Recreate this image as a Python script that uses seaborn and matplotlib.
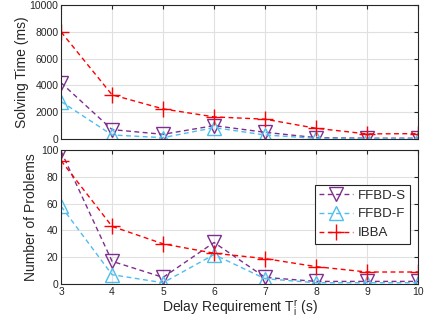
import numpy as np
import pandas as pd
import seaborn as sns
import matplotlib
matplotlib.use("Agg")
from matplotlib import pyplot as plt

# data
delay = [3, 4, 5, 6, 7, 8, 9, 10]
time_ffbd_s = [4200, 700, 350, 1000, 500, 100, 60, 60]
time_ffbd_f = [2800, 300, 100, 850, 300, 50, 30, 30]
time_ibba = [8000, 3300, 2250, 1650, 1480, 800, 380, 400]
prob_ffbd_s = [99, 17, 5, 31, 5, 2, 2, 2]
prob_ffbd_f = [58, 7, 1, 22, 4, 1, 1, 1]
prob_ibba = [92, 43, 30, 23, 19, 13, 9, 9]

names = ["FFBD-S", "FFBD-F", "IBBA"]
colors = ["#7E2F8E", "#4DBEEE", "#FF0000"]
markers = ["v", "^", "+"]

sns.set_style("whitegrid")
plt.rcParams['font.family'] = ['Liberation Sans', 'DejaVu Sans']
plt.rcParams['mathtext.fontset'] = 'custom'
plt.rcParams['mathtext.rm'] = 'Liberation Sans'

fig = plt.figure(figsize=(4.24, 3.21), dpi=100)
ax1 = fig.add_axes([0.144, 0.567, 0.842, 0.417])
ax2 = fig.add_axes([0.144, 0.115, 0.842, 0.418])

def draw(ax, series):
    for vals, name, c, m in zip(series, names, colors, markers):
        df = pd.DataFrame({"x": delay, "y": vals})
        sns.lineplot(data=df, x="x", y="y", ax=ax, color=c,
                     linewidth=1.0, marker=m, markersize=10 if m != "+" else 11,
                     markerfacecolor="none", markeredgecolor=c,
                     markeredgewidth=1.0, label=name)
    # matlab style dashes
    for line in ax.lines:
        line.set_linestyle((0, (3.5, 2.5)))
    ax.set_xlim(3, 10)
    ax.set_xticks(delay)
    ax.grid(True, color="#e0e0e0", linewidth=0.8)
    for s in ax.spines.values():
        s.set_color("#262626")
        s.set_linewidth(0.8)
    ax.tick_params(axis="both", labelsize=7.5, colors="#262626", direction="in",
                   length=3, top=True, right=True, pad=2)
    ax.set_xlabel("")

draw(ax1, [time_ffbd_s, time_ffbd_f, time_ibba])
ax1.set_ylim(0, 10000)
ax1.set_yticks([0, 2000, 4000, 6000, 8000, 10000])
ax1.set_xticklabels([])
ax1.set_ylabel("Solving Time (ms)", fontsize=10, labelpad=0)
ax1.get_legend().remove()

draw(ax2, [prob_ffbd_s, prob_ffbd_f, prob_ibba])
ax2.set_ylim(0, 100)
ax2.set_yticks([0, 20, 40, 60, 80, 100])
ax2.set_ylabel("Number of Problems", fontsize=10, labelpad=2)
ax2.set_xlabel(r"Delay Requirement $\mathregular{T_i^r}$ (s)", fontsize=10, labelpad=1)
leg = ax2.legend(loc="upper left", bbox_to_anchor=(0.71, 0.74), fontsize=9.5,
                 frameon=True, fancybox=False, edgecolor="#262626",
                 handlelength=2.6, borderpad=0.35, labelspacing=0.5,
                 handletextpad=0.3, borderaxespad=0)
leg.get_frame().set_linewidth(0.8)
leg.get_frame().set_alpha(1)

fig.savefig("out.png", dpi=100)
